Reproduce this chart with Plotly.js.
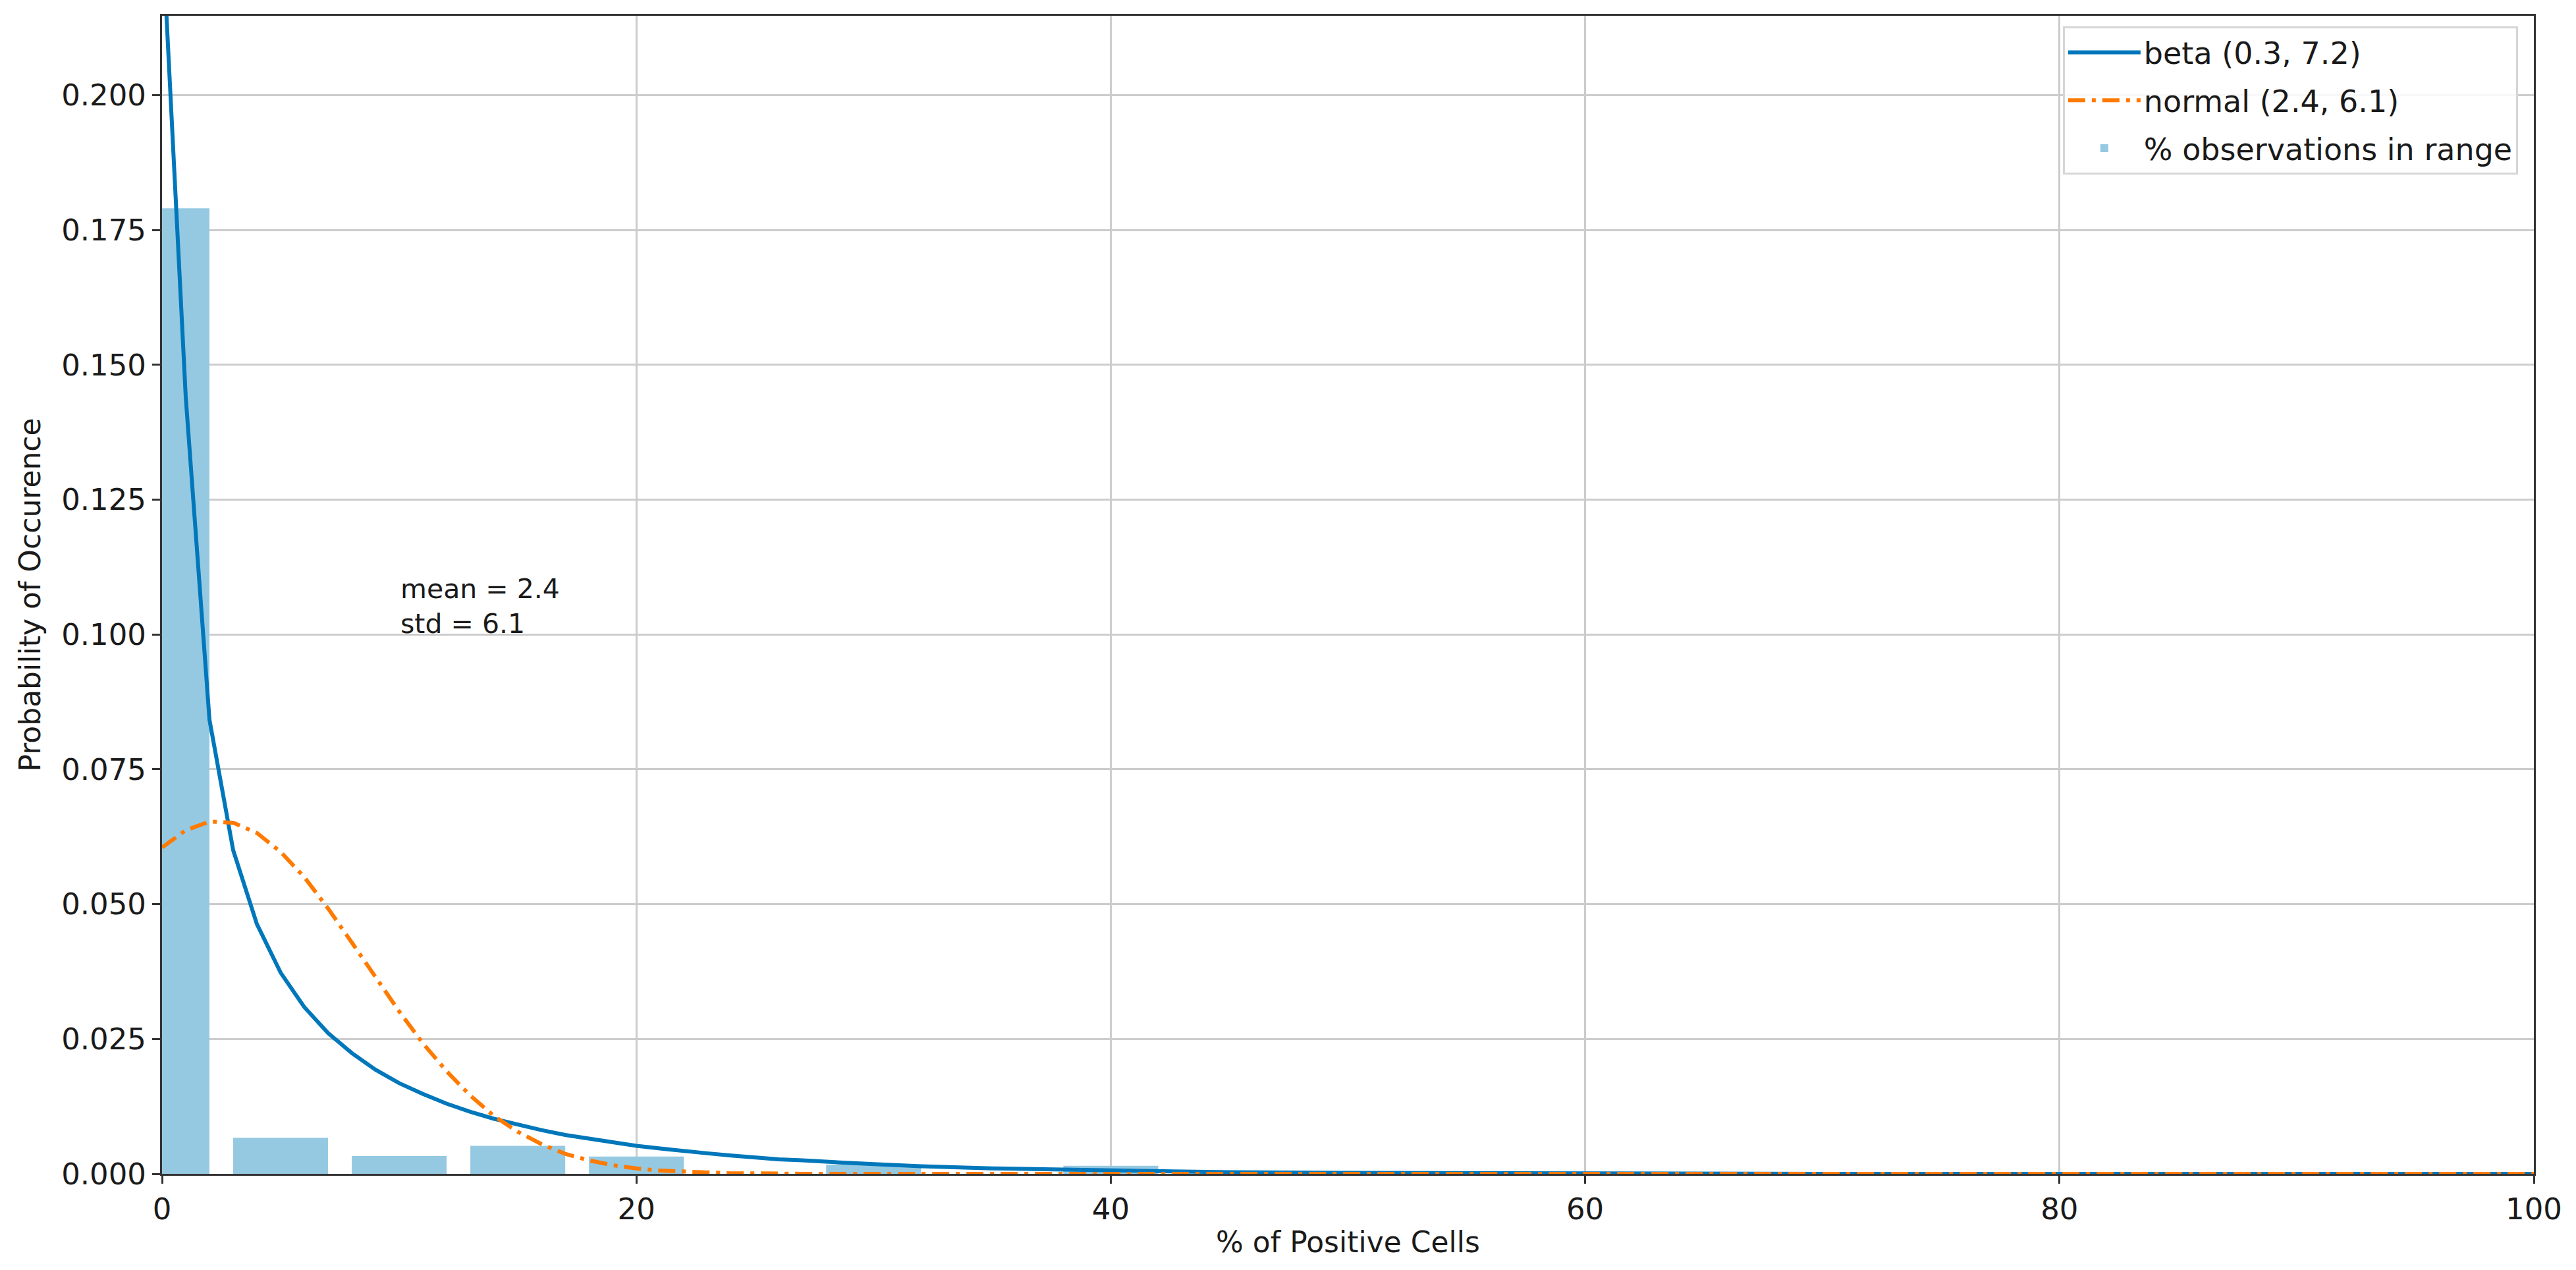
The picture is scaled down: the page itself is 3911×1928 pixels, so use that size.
<!DOCTYPE html>
<html>
<head>
<meta charset="utf-8">
<script src="https://cdn.plot.ly/plotly-3.0.1.min.js"></script>
<style>
  html, body { margin: 0; padding: 0; background: #ffffff; }
  #chart { width: 3911px; height: 1928px; }
</style>
</head>
<body>
<div id="chart"></div>
<script>
// ---- data ----
const binCenters = [0, 5, 10, 15, 20, 25, 30, 35, 40, 45, 50, 55, 60, 65, 70, 75, 80, 85, 90, 95];
const binShares  = [0.179, 0.0067, 0.0033, 0.0052, 0.0032, 0, 0.0017, 0, 0.0015, 0, 0, 0, 0, 0, 0, 0, 0, 0, 0, 0];

const curveX = [0, 1, 2, 3, 4, 5, 6, 7, 8, 9, 10, 11, 12, 13, 14, 15, 16, 17, 18, 19, 20,
                21, 22, 23, 24, 25, 26, 27, 28, 29, 30, 32, 35, 40, 45, 50, 60, 70, 80, 90, 100];
const betaPdf = [0.231, 0.144, 0.0842, 0.0600, 0.0463, 0.0373, 0.0309, 0.0261, 0.0224, 0.0193, 0.0168,
                 0.0148, 0.0130, 0.0115, 0.0102, 0.0091, 0.0081, 0.0072, 0.0065, 0.0058, 0.0052,
                 0.0047, 0.0042, 0.0038, 0.0034, 0.0030, 0.0027, 0.0025, 0.0022, 0.0020, 0.0018,
                 0.0014, 0.0010, 0.0006, 0.0003, 0.00017, 0.00004, 0.00001, 0, 0, 0];
const normalPdf = [0.0605, 0.0637, 0.0653, 0.0651, 0.0632, 0.0597, 0.0550, 0.0492, 0.0429, 0.0364, 0.0301,
                   0.0242, 0.0190, 0.0145, 0.0107, 0.0078, 0.0055, 0.0037, 0.0025, 0.0016, 0.0010,
                   0.0006, 0.0004, 0.0002, 0.0001, 0.0001, 0, 0, 0, 0, 0,
                   0, 0, 0, 0, 0, 0, 0, 0, 0, 0];

const betaLabel = 'beta (0.3, 7.2)';
const normalLabel = 'normal (2.4, 6.1)';
const barLabel = '% observations in range';
const statsText = ['mean = 2.4', 'std = 6.1'];
const statsPos = [10, 0.1];

const xTickVals = [0, 20, 40, 60, 80, 100];
const yTickVals = [0, 0.025, 0.05, 0.075, 0.1, 0.125, 0.15, 0.175, 0.2];

// ---- styling ----
const FONT = 'DejaVu Sans, Liberation Sans, sans-serif';
const TXT = '#1a1a1a';

const traces = [
  {
    type: 'bar', x: binCenters, y: binShares, width: 4,
    name: barLabel, legendgroup: 'c', legendrank: 3,
    marker: { color: '#95c9e2', line: { width: 0 } },
    hoverinfo: 'x+y'
  },
  {
    type: 'scatter', mode: 'lines', x: curveX, y: betaPdf,
    name: betaLabel, legendgroup: 'a', legendrank: 1,
    line: { color: '#0077bb', width: 6 }
  },
  {
    type: 'scatter', mode: 'lines', x: curveX, y: normalPdf,
    name: normalLabel, legendgroup: 'b', legendrank: 2,
    line: { color: '#ff7a00', width: 6, dash: '26px,10px,6px,10px' }
  }
];

const axisCommon = {
  showline: true, mirror: true, linecolor: '#333333', linewidth: 3,
  ticks: 'outside', ticklen: 12, tickwidth: 3, tickcolor: '#333333',
  showgrid: true, gridcolor: '#cccccc', gridwidth: 3,
  zeroline: false,
  tickfont: { family: FONT, size: 45, color: TXT },
  automargin: false
};

const layout = {
  width: 3911, height: 1928,
  paper_bgcolor: '#ffffff', plot_bgcolor: '#ffffff',
  font: { family: FONT, size: 44, color: TXT },
  margin: { l: 246, r: 64, t: 24, b: 146, pad: 0 },
  showlegend: true,
  barmode: 'overlay',
  xaxis: Object.assign({}, axisCommon, {
    range: [0, 100], tickvals: xTickVals, ticktext: xTickVals.map(String),
    title: { text: '% of Positive Cells', font: { family: FONT, size: 44, color: TXT }, standoff: 10 }
  }),
  yaxis: Object.assign({}, axisCommon, {
    range: [0, 0.2147], tickvals: yTickVals, ticktext: yTickVals.map(v => v.toFixed(3)),
    title: { text: 'Probability of Occurence', font: { family: FONT, size: 44, color: TXT }, standoff: 18 }
  }),
  legend: {
    x: 0.9933, y: 0.9909, xanchor: 'right', yanchor: 'top',
    bgcolor: 'rgba(255,255,255,0.85)', bordercolor: '#d6d6d6', borderwidth: 3,
    font: { family: FONT, size: 46, color: TXT },
    traceorder: 'grouped', tracegroupgap: 10, itemwidth: 110
  },
  annotations: [{
    x: statsPos[0], y: statsPos[1], xref: 'x', yref: 'y',
    text: statsText.join('<br>'), showarrow: false,
    xanchor: 'left', yanchor: 'bottom', align: 'left', yshift: -10,
    font: { family: FONT, size: 41, color: TXT }
  }]
};

Plotly.newPlot('chart', traces, layout, { displayModeBar: false, staticPlot: true });
</script>
</body>
</html>
